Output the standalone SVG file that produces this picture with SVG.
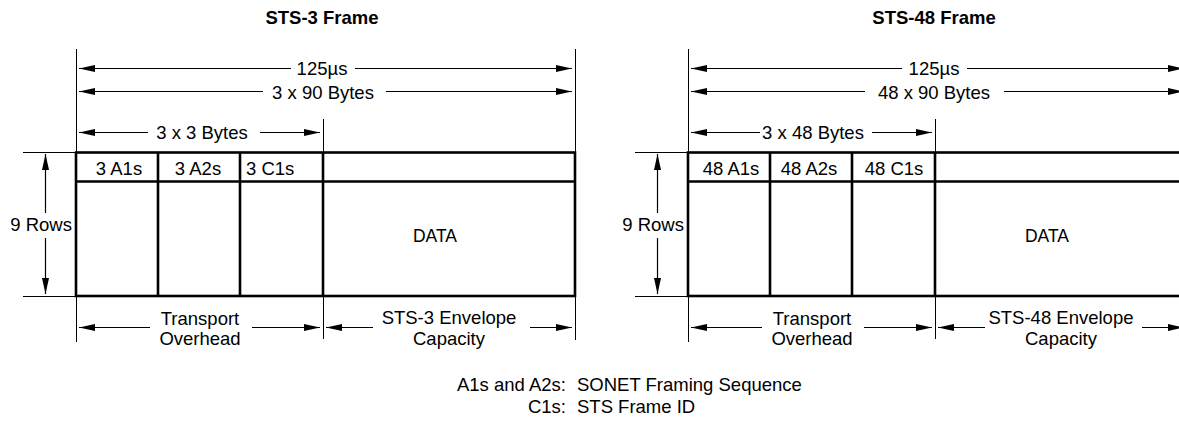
<svg xmlns="http://www.w3.org/2000/svg" width="1179" height="421" viewBox="0 0 1179 421">
<style>
text{font-family:"Liberation Sans",Arial,sans-serif;font-size:18.5px;fill:#000}
.t{font-weight:bold}
.c{text-anchor:middle}
.e{text-anchor:end}
.thin{stroke:#000;stroke-width:1;fill:none}
.thick{stroke:#000;stroke-width:2.6;fill:none}
.arr{stroke:#000;stroke-width:1.2;fill:none}
.a{marker-end:url(#ah)}
.s{marker-start:url(#ah)}
.data{font-size:17.5px}
</style>
<defs>
<marker id="ah" viewBox="0 0 16 7" refX="16" refY="3.5" markerWidth="16" markerHeight="7" markerUnits="userSpaceOnUse" orient="auto-start-reverse">
<path d="M0,0 L16,3.5 L0,7 z" fill="#000"/>
</marker>
</defs>
<rect width="1179" height="421" fill="#fff"/>

<g id="frame-sts3">
<text class="t c" x="322" y="24">STS-3 Frame</text>
<line class="thin" x1="76.5" y1="49" x2="76.5" y2="342"/>
<line class="thin" x1="323.5" y1="119" x2="323.5" y2="152"/>
<line class="thin" x1="323.5" y1="296" x2="323.5" y2="339"/>
<line class="thin" x1="575.5" y1="49" x2="575.5" y2="340"/>
<line class="thin" x1="23" y1="152.5" x2="76" y2="152.5"/>
<line class="thin" x1="23" y1="296.5" x2="76" y2="296.5"/>
<rect class="thick" x="76" y="152.5" width="499" height="143.5"/>
<line class="thick" x1="76" y1="181.5" x2="575" y2="181.5"/>
<line class="thick" x1="158" y1="152.5" x2="158" y2="296"/>
<line class="thick" x1="240" y1="152.5" x2="240" y2="296"/>
<line class="thick" x1="323" y1="152.5" x2="323" y2="296"/>
<text class="c" x="119" y="175">3 A1s</text>
<text class="c" x="198" y="175">3 A2s</text>
<text x="246" y="175">3 C1s</text>
<text class="c data" x="435" y="242">DATA</text>
</g>

<g id="frame-sts48">
<text class="t c" x="934" y="24">STS-48 Frame</text>
<line class="thin" x1="688.5" y1="49" x2="688.5" y2="342"/>
<line class="thin" x1="935.5" y1="119" x2="935.5" y2="152"/>
<line class="thin" x1="935.5" y1="296" x2="935.5" y2="339"/>
<line class="thin" x1="635" y1="152.5" x2="688" y2="152.5"/>
<line class="thin" x1="635" y1="296.5" x2="688" y2="296.5"/>
<rect class="thick" x="688" y="152.5" width="499" height="143.5"/>
<line class="thick" x1="688" y1="181.5" x2="1187" y2="181.5"/>
<line class="thick" x1="770" y1="152.5" x2="770" y2="296"/>
<line class="thick" x1="852" y1="152.5" x2="852" y2="296"/>
<line class="thick" x1="935" y1="152.5" x2="935" y2="296"/>
<text class="c" x="731" y="175">48 A1s</text>
<text class="c" x="809" y="175">48 A2s</text>
<text class="c" x="894" y="175">48 C1s</text>
<text class="c data" x="1047" y="242">DATA</text>
</g>

<g id="connectors">
<line class="arr s" x1="79" y1="68.5" x2="291" y2="68.5"/>
<line class="arr a" x1="355" y1="68.5" x2="572" y2="68.5"/>
<line class="arr s" x1="79" y1="91.5" x2="263" y2="91.5"/>
<line class="arr a" x1="386" y1="91.5" x2="572" y2="91.5"/>
<line class="arr s" x1="79" y1="132.5" x2="148" y2="132.5"/>
<line class="arr a" x1="260" y1="132.5" x2="320" y2="132.5"/>
<line class="arr s" x1="45.5" y1="154" x2="45.5" y2="213"/>
<line class="arr a" x1="45.5" y1="238" x2="45.5" y2="294"/>
<line class="arr s" x1="79" y1="327.5" x2="150" y2="327.5"/>
<line class="arr a" x1="252" y1="327.5" x2="320" y2="327.5"/>
<line class="arr s" x1="326" y1="327.5" x2="373" y2="327.5"/>
<line class="arr a" x1="530" y1="327.5" x2="572" y2="327.5"/>

<line class="arr s" x1="691" y1="68.5" x2="902" y2="68.5"/>
<line class="arr a" x1="967" y1="68.5" x2="1184" y2="68.5"/>
<line class="arr s" x1="691" y1="91.5" x2="865" y2="91.5"/>
<line class="arr a" x1="1004" y1="91.5" x2="1184" y2="91.5"/>
<line class="arr s" x1="691" y1="132.5" x2="760" y2="132.5"/>
<line class="arr a" x1="872" y1="132.5" x2="932" y2="132.5"/>
<line class="arr s" x1="657.5" y1="154" x2="657.5" y2="213"/>
<line class="arr a" x1="657.5" y1="238" x2="657.5" y2="294"/>
<line class="arr s" x1="691" y1="327.5" x2="762" y2="327.5"/>
<line class="arr a" x1="864" y1="327.5" x2="932" y2="327.5"/>
<line class="arr s" x1="938" y1="327.5" x2="985" y2="327.5"/>
<line class="arr a" x1="1142" y1="327.5" x2="1184" y2="327.5"/>
</g>

<g id="labels">
<text class="c" x="322" y="74.5">125µs</text>
<text class="c" x="323" y="98.5">3 x 90 Bytes</text>
<text class="c" x="202" y="138.5">3 x 3 Bytes</text>
<text class="e" x="72" y="231">9 Rows</text>
<text class="c" x="200" y="324.5">Transport</text>
<text class="c" x="200" y="345">Overhead</text>
<text class="c" x="449" y="324">STS-3 Envelope</text>
<text class="c" x="449" y="344.5">Capacity</text>

<text class="c" x="934" y="74.5">125µs</text>
<text class="c" x="934" y="98.5">48 x 90 Bytes</text>
<text class="c" x="813" y="138.5">3 x 48 Bytes</text>
<text class="e" x="684" y="231">9 Rows</text>
<text class="c" x="812" y="324.5">Transport</text>
<text class="c" x="812" y="345">Overhead</text>
<text class="c" x="1061" y="324">STS-48 Envelope</text>
<text class="c" x="1061" y="344.5">Capacity</text>
</g>

<g id="legend">
<text class="e" x="566" y="391">A1s and A2s:</text>
<text x="577" y="391">SONET Framing Sequence</text>
<text class="e" x="566" y="413">C1s:</text>
<text x="577" y="413">STS Frame ID</text>
</g>
</svg>
